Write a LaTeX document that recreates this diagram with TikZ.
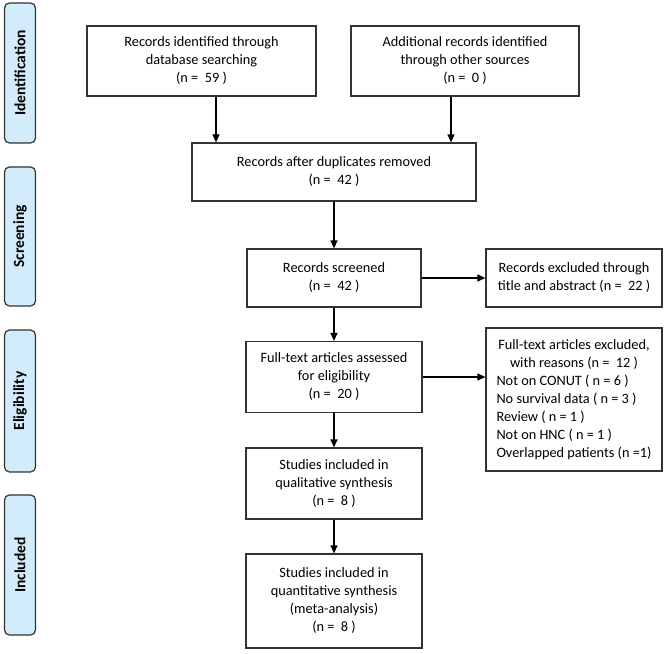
\documentclass[tikz,border=0pt]{standalone}
\usepackage{fontspec}
\setmainfont{Carlito}
\usetikzlibrary{arrows.meta}
\definecolor{phase}{HTML}{D2ECFB}
\definecolor{edge}{HTML}{333333}
\begin{document}
\begin{tikzpicture}[x=1pt,y=-1pt,
  box/.style={draw=edge, line width=1.2pt, rectangle, align=center, inner sep=2pt,
    font=\fontsize{14.3}{18}\selectfont},
  phasebox/.style={draw=edge, line width=1.2pt, fill=phase, rounded corners=5pt,
    rotate=90, font=\bfseries\fontsize{15.5}{18}\selectfont},
  arr/.style={draw=black, line width=1.2pt, -{Triangle[length=8pt,width=7pt]}}]
\useasboundingbox (0,0) rectangle (669,653);
% phase labels
\node[phasebox, minimum height=31pt, minimum width=140pt] (pid) at (20,73) {Identification};
\node[phasebox, minimum height=31pt, minimum width=139pt] (psc) at (20,236.5) {Screening};
\node[phasebox, minimum height=31pt, minimum width=142pt] (pel) at (20,401) {Eligibility};
\node[phasebox, minimum height=31pt, minimum width=140pt] (pin) at (20,565) {Included};
% boxes
\node[box, minimum width=229pt, minimum height=70pt] (b1) at (201.5,61) {Records identified through\\database searching\\(n = \ 59 )};
\node[box, minimum width=228pt, minimum height=70pt] (b2) at (465,61) {Additional records identified\\through other sources\\(n = \ 0 )};
\node[box, minimum width=284pt, minimum height=58pt] (b3) at (334,172) {Records after duplicates removed\\(n = \ 42 )};
\node[box, minimum width=174pt, minimum height=58pt] (b4) at (334,278) {Records screened\\(n = \ 42 )};
\node[box, minimum width=176pt, minimum height=58pt] (b5) at (574,278) {Records excluded through\\title and abstract (n = \ 22 )};
\node[box, minimum width=176pt, minimum height=71pt] (b6) at (334,377) {Full-text articles assessed\\for eligibility\\(n = \ 20 )};
\node[box, minimum width=176pt, minimum height=143pt] (b7) at (574,399.5) {%
  \begin{tabular}{@{}l@{}}
  \multicolumn{1}{@{}c@{}}{Full-text articles excluded,}\\
  \multicolumn{1}{@{}c@{}}{with reasons (n = \ 12 )}\\
  Not on CONUT ( n = 6 )\\
  No survival data ( n = 3 )\\
  Review ( n = 1 )\\
  Not on HNC ( n = 1 )\\
  Overlapped patients (n =1)
  \end{tabular}};
\node[box, minimum width=176pt, minimum height=71pt] (b8) at (334,483.5) {Studies included in\\qualitative synthesis\\(n = \ 8 )};
\node[box, minimum width=176pt, minimum height=94pt] (b9) at (334,601) {Studies included in\\quantitative synthesis\\(meta-analysis)\\(n = \ 8 )};
% connectors
\draw[arr] (b1.south -| 216,0) -- (b3.north -| 216,0);
\draw[arr] (b2.south -| 451,0) -- (b3.north -| 451,0);
\draw[arr] (b3) -- (b4);
\draw[arr] (b4) -- (b5);
\draw[arr] (b4) -- (b6);
\draw[arr] (b6.east) -- (b6.east -| b7.west);
\draw[arr] (b6) -- (b8);
\draw[arr] (b8) -- (b9);
\end{tikzpicture}
\end{document}
